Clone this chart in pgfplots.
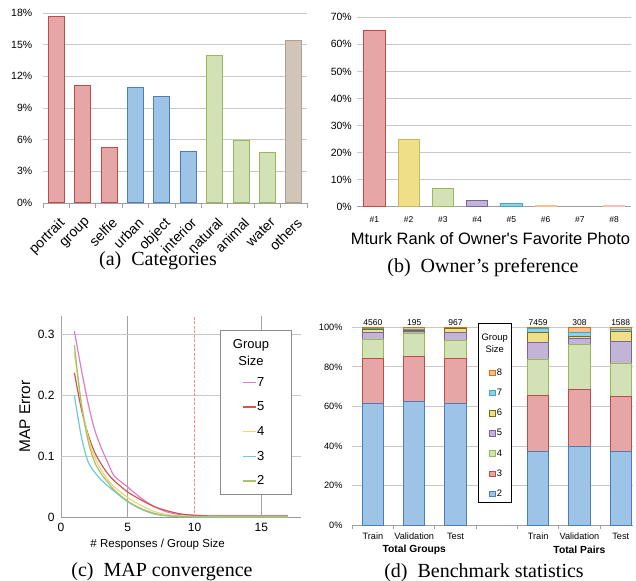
\documentclass[border=0pt]{standalone}
\usepackage{pgfplots}
\pgfplotsset{compat=1.18}
\usepackage{fontspec}
\setmainfont{Liberation Sans}
\newfontfamily\capfont{Liberation Serif}
\newcommand\fs[1]{\fontsize{#1}{#1}\selectfont}
\definecolor{redF}{HTML}{E5A6A5}
\definecolor{redE}{HTML}{BE4B48}
\definecolor{bluF}{HTML}{9DC3E6}
\definecolor{bluE}{HTML}{4A7EBB}
\definecolor{grnF}{HTML}{D3E2B6}
\definecolor{grnE}{HTML}{98B954}
\definecolor{tanF}{HTML}{D2C4B6}
\definecolor{tanE}{HTML}{ACA094}
\definecolor{yelF}{HTML}{EEDF88}
\definecolor{yelE}{HTML}{C9B85A}
\definecolor{yelE2}{HTML}{7A6A20}
\definecolor{purF}{HTML}{C2B4D6}
\definecolor{purE}{HTML}{7E62A1}
\definecolor{cyaF}{HTML}{8FD0E4}
\definecolor{cyaE}{HTML}{3FA9C6}
\definecolor{orgF}{HTML}{F9C08F}
\definecolor{orgE}{HTML}{E36C0A}
\definecolor{pnkF}{HTML}{F8BFBF}
\definecolor{gridc}{HTML}{C8C8C8}
\definecolor{axc}{HTML}{A0A0A0}
\definecolor{cSeven}{HTML}{DD7DCB}
\definecolor{cFive}{HTML}{D0574C}
\definecolor{cFour}{HTML}{F2D27A}
\definecolor{cThree}{HTML}{6EC6E2}
\definecolor{cTwo}{HTML}{A5C463}
\pgfplotsset{
  base/.style={scale only axis, /pgf/number format/assume math mode=true,
    grid style={gridc, line width=0.9pt}, axis line style={axc, line width=0.9pt},
    tick style={axc, line width=0.9pt}, enlargelimits=false},
}
\begin{document}
\begin{tikzpicture}[x=1pt,y=1pt]

% ---------------- (a) Categories
\begin{axis}[base, at={(43pt,377pt)}, anchor=south west, width=264pt, height=190pt,
  ybar, bar width=16pt, ymin=0, ymax=18, xmin=-0.5, xmax=9.5,
  ytick={0,3,...,18}, yticklabel={\pgfmathprintnumber{\tick}\%},
  yticklabel style={font=\fs{10.5}, xshift=-3pt},
  ymajorgrids, axis x line*=bottom, axis y line*=left,
  y axis line style={draw=none}, ytick style={draw=none},
  xtick={0,...,9},
  xticklabels={portrait,group,selfie,urban,object,interior,natural,animal,water,others},
  xticklabel style={font=\fs{14}, xshift=2pt, yshift=-8pt, rotate=45, anchor=north east, inner sep=1pt},
  major x tick style={draw=none}, minor xtick={-0.5,0.5,...,9.5},
  tick align=outside, minor tick length=5pt]
\addplot[fill=redF, draw=redE, line width=1pt, bar shift=0pt] coordinates {(0,17.7) (1,11.1) (2,5.3)};
\addplot[fill=bluF, draw=bluE, line width=1pt, bar shift=0pt] coordinates {(3,10.9) (4,10.1) (5,4.85)};
\addplot[fill=grnF, draw=grnE, line width=1pt, bar shift=0pt] coordinates {(6,14.0) (7,5.9) (8,4.8)};
\addplot[fill=tanF, draw=tanE, line width=1pt, bar shift=0pt] coordinates {(9,15.4)};
\end{axis}

% ---------------- (b) Owner's preference
\begin{axis}[base, at={(357.3pt,373.3pt)}, anchor=south west, width=274pt, height=189.4pt,
  ybar, bar width=21.3pt, ymin=0, ymax=70, xmin=0.5, xmax=8.5,
  ytick={0,10,...,70}, yticklabel={\pgfmathprintnumber{\tick}\%},
  yticklabel style={font=\fs{10.5}, xshift=-2pt},
  ymajorgrids, axis x line*=bottom, axis y line*=left,
  y axis line style={draw=none}, ytick style={draw=none},
  xtick={1,...,8}, xticklabels={\#1,\#2,\#3,\#4,\#5,\#6,\#7,\#8},
  xticklabel style={font=\fs{8.5}, yshift=-2pt}, xtick style={draw=none},
  xlabel={Mturk Rank of Owner\textquotesingle s Favorite Photo},
  xlabel style={font=\fs{16.5}, at={(axis description cs:0.486,0)}, anchor=center, yshift=-32.3pt}]
\addplot[fill=redF, draw=redE, line width=1pt, bar shift=0pt] coordinates {(1,65)};
\addplot[fill=yelF, draw=yelE, line width=1pt, bar shift=0pt] coordinates {(2,25)};
\addplot[fill=grnF, draw=grnE, line width=1pt, bar shift=0pt] coordinates {(3,6.8)};
\addplot[fill=purF, draw=purE, line width=1pt, bar shift=0pt] coordinates {(4,2.3)};
\addplot[fill=cyaF, draw=cyaE, line width=1pt, bar shift=0pt] coordinates {(5,1.0)};
\addplot[fill=orgF, draw=orgF, line width=1pt, bar shift=0pt] coordinates {(6,0.4)};
\addplot[draw=none, bar shift=0pt] coordinates {(7,0)};
\addplot[fill=pnkF, draw=pnkF, line width=1pt, bar shift=0pt] coordinates {(8,0.4)};
\end{axis}

% ---------------- (c) MAP convergence
\begin{axis}[base, at={(61pt,62.3pt)}, anchor=south west, width=240.3pt, height=202pt,
  xmin=0, xmax=18, ymin=0, ymax=0.33,
  xtick={0,5,15}, extra x ticks={10},
  extra x tick style={major grid style={draw=red!45, dash pattern=on 3pt off 1.5pt, line width=0.9pt},
     major x grid style={draw=red!45, dash pattern=on 3pt off 1.5pt, line width=0.9pt}},
  ytick={0,0.1,0.2,0.3},
  xmajorgrids, ymajorgrids, major x grid style={draw=gray!72, line width=0.9pt},
  axis x line*=bottom, axis y line*=left, y axis line style={draw=none},
  axis line style={gray!80, line width=0.9pt},
  tick style={draw=none},
  ticklabel style={font=\fs{12}},
  xticklabel style={yshift=-2pt}, yticklabel style={xshift=-3pt},
  ylabel={MAP Error}, ylabel style={font=\fs{15.4}, at={(axis description cs:-0.15,0.5)}, anchor=center},
  xlabel={\# Responses / Group Size},
  xlabel style={font=\fs{11.5}, at={(axis description cs:0.402,0)}, anchor=center, yshift=-27.3pt}]
\addplot[smooth, cSeven, line width=1.2pt] coordinates {(1,0.305) (1.5,0.245) (2,0.19) (2.5,0.145) (3,0.115) (3.5,0.09) (4,0.068) (5,0.05) (6,0.032) (7,0.018) (8,0.009) (9,0.005) (10,0.004) (11,0.003) (12,0.003) (13,0.003) (14,0.003) (15,0.003) (16,0.003) (17,0.003)};
\addplot[smooth, cFive, line width=1.2pt] coordinates {(1,0.237) (1.5,0.18) (2,0.138) (2.5,0.108) (3,0.088) (3.5,0.072) (4,0.06) (5,0.042) (6,0.029) (7,0.018) (8,0.011) (9,0.006) (10,0.004) (11,0.003) (12,0.003) (13,0.003) (14,0.003) (15,0.003) (16,0.003) (17,0.003)};
\addplot[smooth, cFour, line width=1.2pt] coordinates {(1,0.27) (1.5,0.19) (2,0.135) (2.5,0.1) (3,0.078) (3.5,0.062) (4,0.05) (5,0.033) (6,0.02) (7,0.01) (8,0.005) (9,0.003) (10,0.002) (11,0.002) (12,0.002) (13,0.002) (14,0.002) (15,0.002) (16,0.002) (17,0.002)};
\addplot[smooth, cThree, line width=1.2pt] coordinates {(1,0.2) (1.5,0.135) (2,0.093) (2.5,0.075) (3,0.062) (3.5,0.052) (4,0.043) (5,0.026) (6,0.014) (7,0.006) (8,0.003) (9,0.002) (10,0.001) (11,0.001) (12,0.001) (13,0.001) (14,0.001) (15,0.001) (16,0.001) (17,0.001)};
\addplot[smooth, cTwo, line width=1.2pt] coordinates {(1,0.282) (1.5,0.19) (2,0.128) (2.5,0.092) (3,0.072) (3.5,0.058) (4,0.045) (5,0.027) (6,0.015) (7,0.007) (8,0.003) (9,0.002) (10,0.002) (11,0.001) (12,0.001) (13,0.001) (14,0.001) (15,0.001) (16,0.001) (17,0.001)};
\end{axis}
% legend box (c)
\draw[fill=white, draw=gray!90, line width=0.9pt] (220,250) rectangle (291.7,86);
\node[font=\fontsize{13}{17}\selectfont, align=center] at (251,227.5) {Group\\Size};
\begin{axis}[base, hide axis, at={(61pt,62.3pt)}, anchor=south west, width=240.3pt, height=202pt,
  xmin=0, xmax=18, ymin=0, ymax=0.33,
  legend style={at={(axis description cs:0.752,0.70)}, anchor=north west, draw=none, fill=none,
     font=\fs{13}, row sep=12.5pt, inner sep=0pt, nodes={inner sep=0.8pt}},
  legend cell align=left,
  legend image code/.code={\draw[#1, line width=1.3pt] (0pt,0pt) -- (13pt,0pt);}]
\addlegendimage{cSeven}\addlegendentry{7}
\addlegendimage{cFive}\addlegendentry{5}
\addlegendimage{cFour}\addlegendentry{4}
\addlegendimage{cThree}\addlegendentry{3}
\addlegendimage{cTwo}\addlegendentry{2}
\end{axis}

% ---------------- (d) Benchmark statistics
\begin{axis}[base, at={(352.3pt,54.7pt)}, anchor=south west, width=280.8pt, height=198pt,
  ybar stacked, bar width=21.3pt, ymin=0, ymax=100, xmin=-0.5, xmax=6.3, clip=false,
  ytick={0,20,...,100}, yticklabel={\pgfmathprintnumber{\tick}\%},
  yticklabel style={font=\fs{9.2}, xshift=-2pt},
  ymajorgrids, axis x line*=bottom, axis y line*=left,
  y axis line style={draw=none}, ytick style={draw=none},
  xtick={0,1,2,4,5,6}, xticklabels={Train,Validation,Test,Train,Validation,Test},
  xticklabel style={font=\fs{9.2}},
  major x tick style={draw=none}, minor xtick={-0.5,0.5,...,5.5},
  tick align=outside, minor tick length=4pt]
\addplot[fill=bluF, draw=bluE, line width=0.9pt] coordinates {(0,61.3) (1,62.5) (2,61.3) (4,37.4) (5,39.9) (6,37.4)};
\addplot[fill=redF, draw=redE, line width=0.9pt] coordinates {(0,22.9) (1,23.0) (2,22.9) (4,28.1) (5,28.8) (6,27.8)};
\addplot[fill=grnF, draw=grnE, line width=0.9pt] coordinates {(0,9.9) (1,11.3) (2,9.1) (4,18.5) (5,22.4) (6,16.6)};
\addplot[fill=purF, draw=purE, line width=0.9pt] coordinates {(0,3.5) (1,1.3) (2,4.3) (4,8.4) (5,3.5) (6,11.0)};
\addplot[fill=yelF, draw=yelE2, line width=0.9pt] coordinates {(0,1.2) (1,0.5) (2,1.6) (4,5.1) (5,1.0) (6,5.3)};
\addplot[fill=cyaF, draw=cyaE, line width=0.9pt] coordinates {(0,0.5) (1,0.4) (2,0.3) (4,1.8) (5,1.9) (6,0.6)};
\addplot[fill=orgF, draw=orgE, line width=0.9pt] coordinates {(0,0.7) (1,1.0) (2,0.5) (4,0.7) (5,2.5) (6,1.3)};
\node[font=\fs{8.5}, anchor=base] at (axis cs:0,101) {4560};
\node[font=\fs{8.5}, anchor=base] at (axis cs:1,101) {195};
\node[font=\fs{8.5}, anchor=base] at (axis cs:2,101) {967};
\node[font=\fs{8.5}, anchor=base] at (axis cs:4,101) {7459};
\node[font=\fs{8.5}, anchor=base] at (axis cs:5,101) {308};
\node[font=\fs{8.5}, anchor=base] at (axis cs:6,101) {1588};
\node[font=\bfseries\fs{10.3}, yshift=-24.7pt] at (axis cs:1,0) {Total Groups};
\node[font=\bfseries\fs{10.3}, yshift=-24.7pt] at (axis cs:5,0) {Total Pairs};
\end{axis}
% legend box (d)
\draw[fill=white, draw=black, line width=1pt] (478.3,256.7) rectangle (511.3,77.3);
\node[font=\fontsize{9.4}{11.6}\selectfont, align=center] at (494.7,236.5) {Group\\Size};
\begin{axis}[base, hide axis, at={(352.3pt,54.7pt)}, anchor=south west, width=280.8pt, height=198pt,
  xmin=-0.5, xmax=6.3, ymin=0, ymax=100,
  legend style={at={(axis description cs:0.487,0.795)}, anchor=north west, draw=none, fill=none,
     font=\fs{9.4}, row sep=11pt, inner sep=0pt, nodes={inner sep=0.6pt}, column sep=0.5pt},
  legend cell align=left,
  legend image code/.code={\draw[#1, line width=0.8pt] (0pt,-2.8pt) rectangle (5.6pt,2.8pt);}]
\addlegendimage{fill=orgF, draw=orgE}\addlegendentry{8}
\addlegendimage{fill=cyaF, draw=cyaE}\addlegendentry{7}
\addlegendimage{fill=yelF, draw=yelE2}\addlegendentry{6}
\addlegendimage{fill=purF, draw=purE}\addlegendentry{5}
\addlegendimage{fill=grnF, draw=grnE}\addlegendentry{4}
\addlegendimage{fill=redF, draw=redE}\addlegendentry{3}
\addlegendimage{fill=bluF, draw=bluE}\addlegendentry{2}
\end{axis}

% captions
\node[font=\capfont\fs{20}, anchor=base] at (158,314) {(a)~~Categories};
\node[font=\capfont\fs{20}, anchor=base] at (483,307) {(b)~~Owner’s preference};
\node[font=\capfont\fs{20}, anchor=base] at (162,4) {(c)~~MAP convergence};
\node[font=\capfont\fs{20}, anchor=base] at (484,3) {(d)~~Benchmark statistics};

\pgfresetboundingbox
\path[use as bounding box] (0,0) rectangle (636,580);
\end{tikzpicture}
\end{document}
